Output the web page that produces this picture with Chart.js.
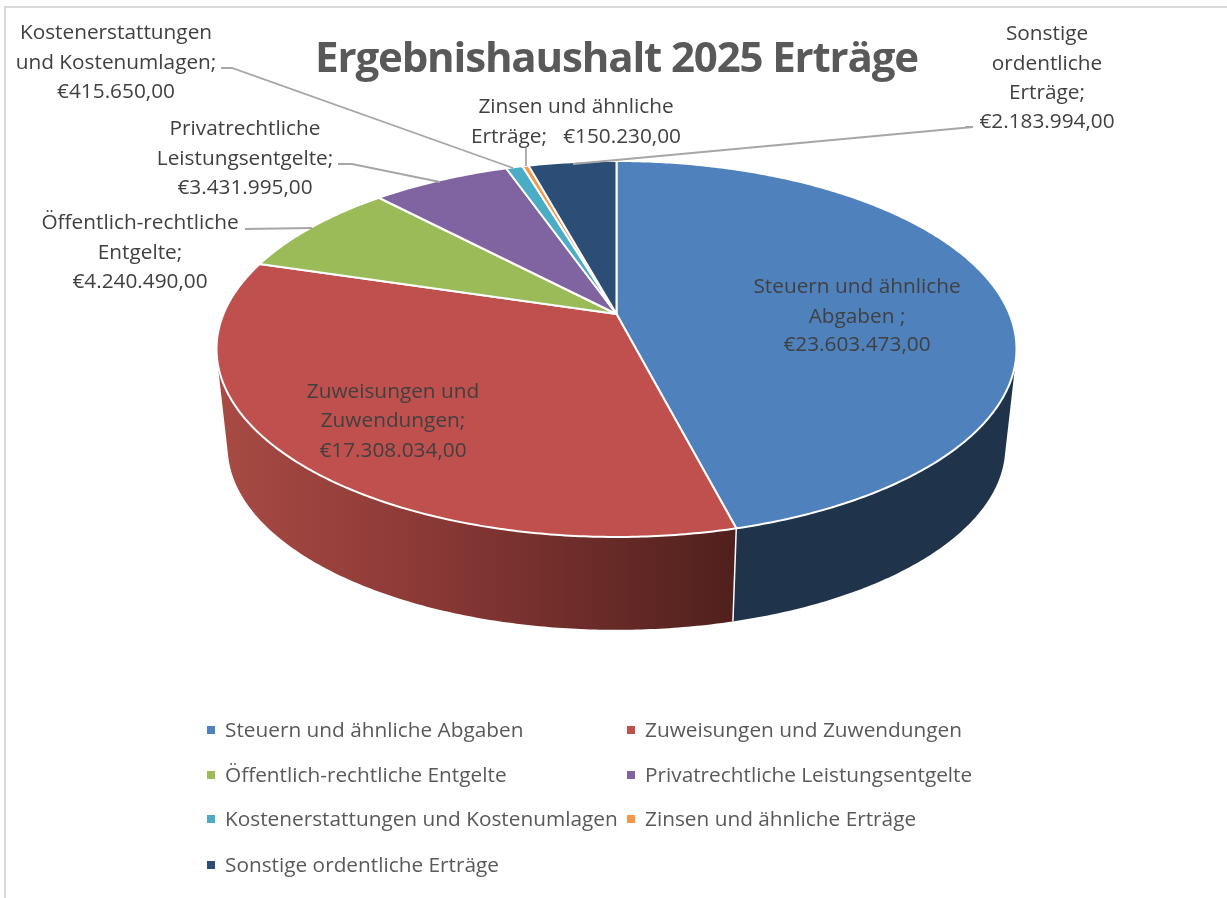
<!DOCTYPE html>
<html lang="de">
<head>
<meta charset="utf-8">
<title>Ergebnishaushalt 2025 Erträge</title>
<script src="https://cdn.jsdelivr.net/npm/chart.js@4"></script>
<style>
  html, body { margin: 0; padding: 0; background: #fff; overflow: hidden; }
  #frame { position: absolute; left: 4px; top: 6px; width: 1240px; height: 920px; border: 2px solid #d9d9d9; }
  #chart { position: absolute; left: 0; top: 0; }
</style>
</head>
<body>
<div id="frame"></div>
<canvas id="chart" width="1227" height="898"></canvas>
<script>
const titleText = 'Ergebnishaushalt 2025 Erträge';
const categories = [
  'Steuern und ähnliche Abgaben',
  'Zuweisungen und Zuwendungen',
  'Öffentlich-rechtliche Entgelte',
  'Privatrechtliche Leistungsentgelte',
  'Kostenerstattungen und Kostenumlagen',
  'Zinsen und ähnliche Erträge',
  'Sonstige ordentliche Erträge'
];
const amounts = [23603473, 17308034, 4240490, 3431995, 415650, 150230, 2183994];
const sliceColors = ['#4f81bd', '#c0504d', '#9bbb59', '#8064a2', '#4bacc6', '#f79646', '#2c4d75'];

// line breaks of the data labels, {v} is the formatted amount
const labelLines = [
  ['Steuern und ähnliche', 'Abgaben ;', '{v}'],
  ['Zuweisungen und', 'Zuwendungen;', '{v}'],
  ['Öffentlich-rechtliche', 'Entgelte;', '{v}'],
  ['Privatrechtliche', 'Leistungsentgelte;', '{v}'],
  ['Kostenerstattungen', 'und Kostenumlagen;', '{v}'],
  ['Zinsen und ähnliche', 'Erträge;   {v}'],
  ['Sonstige', 'ordentliche', 'Erträge;', '{v}']
];
// label centre x and the y of each line
const labelPlaces = [
  { x: 857, y: [287, 317, 345] },
  { x: 393, y: [392, 421, 451] },
  { x: 140, y: [223, 253, 282] },
  { x: 245, y: [129, 159, 188] },
  { x: 116, y: [33, 63, 92] },
  { x: 576, y: [107, 137] },
  { x: 1047, y: [34, 64, 93, 122] }
];
const leaderLines = [
  null,
  null,
  [[245, 229], [312, 228]],
  [[338, 164], [352, 164], [440, 182]],
  [[221, 68], [232, 68], [513, 168]],
  [[526, 148], [526, 166]],
  [[965, 127], [973, 127], [573, 164]]
];
const legendRows = [731, 776, 820, 866];
const legendCols = [207, 627];

// the tilted disc: a homography of the unit circle, so that the slices meet above the ellipse centre
const top3d = { cx: 616.5, cy: 314, f: 393, g: 181.5, k: 0.186 };
const bottom3d = { cx: 616.5, cy: 413, f: 382, g: 176.5, k: 0.186 };

function project(ring, angle) {
  const x = Math.cos(angle), y = Math.sin(angle);
  const w = 1 - ring.k * y;
  return [ring.cx + ring.f * x / w, ring.cy + ring.g * y / w];
}

function money(v) {
  return '€' + v.toLocaleString('de-DE', { minimumFractionDigits: 2, maximumFractionDigits: 2 });
}

function traceArc(ctx, ring, from, to, first) {
  const steps = Math.max(2, Math.ceil(Math.abs(to - from) / 0.01));
  for (let i = 0; i <= steps; i++) {
    const p = project(ring, from + (to - from) * i / steps);
    if (i === 0 && first) ctx.moveTo(p[0], p[1]);
    else ctx.lineTo(p[0], p[1]);
  }
}

// angle where the wall edge touches the top ring, this is the side of the silhouette
function silhouetteAngle(from, to) {
  const side = a => {
    const p = project(top3d, a), q = project(bottom3d, a);
    const p1 = project(top3d, a - 0.001), p2 = project(top3d, a + 0.001);
    return (q[0] - p[0]) * (p2[1] - p1[1]) - (q[1] - p[1]) * (p2[0] - p1[0]);
  };
  let lo = from, hi = to;
  const sign = side(lo) > 0;
  for (let n = 0; n < 40; n++) {
    const mid = (lo + hi) / 2;
    if ((side(mid) > 0) === sign) lo = mid;
    else hi = mid;
  }
  return lo;
}

const pie3d = {
  id: 'pie3d',
  beforeDraw(chart) {
    // title font is a bit wider than the original one
    chart.ctx.letterSpacing = '-1.15px';
  },
  beforeDatasetsDraw(chart) {
    const ctx = chart.ctx;
    ctx.letterSpacing = '0px';
    const arcs = chart.getDatasetMeta(0).data;
    const rightEdge = silhouetteAngle(-0.4, Math.PI / 2);
    const leftEdge = silhouetteAngle(Math.PI + 0.4, Math.PI / 2);
    ctx.save();
    ctx.lineJoin = 'round';

    // side wall, only the part that faces the viewer
    arcs.forEach((arc, i) => {
      const from = Math.max(arc.startAngle, rightEdge);
      const to = Math.min(arc.endAngle, leftEdge);
      if (to <= from) return;
      ctx.beginPath();
      traceArc(ctx, top3d, from, to, true);
      traceArc(ctx, bottom3d, to, from, false);
      ctx.closePath();
      if (i === 1) {
        const shade = ctx.createLinearGradient(222, 0, 735, 0);
        shade.addColorStop(0, '#a84a44');
        shade.addColorStop(0.35, '#8f3b38');
        shade.addColorStop(1, '#50201d');
        ctx.fillStyle = shade;
      } else if (i === 0) {
        ctx.fillStyle = '#1f334b';
      } else {
        ctx.fillStyle = sliceColors[i];
      }
      ctx.fill();
    });
    // white edge between the two visible walls
    const joint = arcs[0].endAngle;
    const a = project(top3d, joint), b = project(bottom3d, joint);
    ctx.strokeStyle = '#fff';
    ctx.lineWidth = 1.5;
    ctx.beginPath();
    ctx.moveTo(a[0], a[1]);
    ctx.lineTo(b[0], b[1]);
    ctx.stroke();

    // top faces
    ctx.lineWidth = 2;
    arcs.forEach((arc, i) => {
      ctx.beginPath();
      ctx.moveTo(top3d.cx, top3d.cy);
      traceArc(ctx, top3d, arc.startAngle, arc.endAngle, false);
      ctx.closePath();
      ctx.fillStyle = sliceColors[i];
      ctx.fill();
      ctx.stroke();
    });
    ctx.restore();
    return false;
  },
  afterDraw(chart) {
    const ctx = chart.ctx;
    ctx.save();

    ctx.strokeStyle = '#a6a6a6';
    ctx.lineWidth = 1.8;
    leaderLines.forEach(pts => {
      if (!pts) return;
      ctx.beginPath();
      pts.forEach((p, n) => n ? ctx.lineTo(p[0], p[1]) : ctx.moveTo(p[0], p[1]));
      ctx.stroke();
    });

    ctx.font = '20.8px "Open Sans"';
    ctx.textAlign = 'center';
    ctx.textBaseline = 'middle';
    ctx.fillStyle = '#404040';
    labelLines.forEach((lines, i) => {
      lines.forEach((line, n) => {
        ctx.fillText(line.replace('{v}', money(amounts[i])), labelPlaces[i].x, labelPlaces[i].y[n]);
      });
    });

    // legend in two fixed columns
    ctx.textAlign = 'left';
    categories.forEach((name, i) => {
      const x = legendCols[i % 2];
      const y = legendRows[Math.floor(i / 2)];
      ctx.fillStyle = sliceColors[i];
      ctx.fillRect(x, y - 5, 8, 8);
      ctx.fillStyle = '#595959';
      ctx.fillText(name, x + 18, y);
    });
    ctx.restore();
  }
};

new Chart(document.getElementById('chart'), {
  type: 'pie',
  data: {
    labels: categories,
    datasets: [{ data: amounts, backgroundColor: sliceColors, borderColor: '#fff' }]
  },
  options: {
    responsive: false,
    animation: false,
    layout: { padding: { left: 6 } },
    plugins: {
      legend: { display: false },
      tooltip: { enabled: false },
      title: {
        display: true,
        text: titleText,
        color: '#595959',
        font: { family: '"Open Sans"', size: 42, weight: 'bold' },
        padding: { top: 35, bottom: 10 }
      }
    }
  },
  plugins: [pie3d]
});
</script>
</body>
</html>
